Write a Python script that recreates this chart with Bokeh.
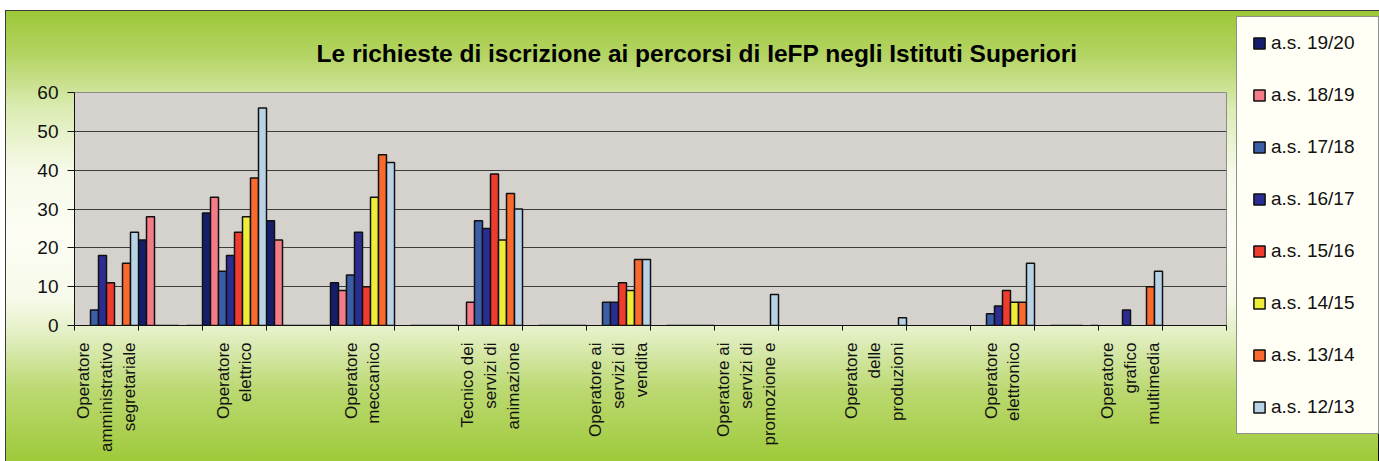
import math
import numpy as np
from bokeh.plotting import figure
from bokeh.layouts import row, column
from bokeh.models import Range1d, FixedTicker, Legend, LegendItem, ColumnDataSource
from bokeh.embed import file_html
from bokeh.resources import INLINE

# ---------------- data ----------------
categories = [
    "Operatore\namministrativo\nsegretariale", "",
    "Operatore\nelettrico", "",
    "Operatore\nmeccanico", "",
    "Tecnico dei\nservizi di\nanimazione", "",
    "Operatore ai\nservizi di\nvendita", "",
    "Operatore ai\nservizi di\npromozione e", "",
    "Operatore\ndelle\nproduzioni", "",
    "Operatore\nelettronico", "",
    "Operatore\ngrafico\nmultimedia", "",
]
series_names = ["a.s. 19/20", "a.s. 18/19", "a.s. 17/18", "a.s. 16/17",
                "a.s. 15/16", "a.s. 14/15", "a.s. 13/14", "a.s. 12/13"]
N = None
as_1920 = [N, 22, 29, 27, 11, N, N, N, N, N, N, N, N, N, N, N, N, N]
as_1819 = [N, 28, 33, 22, 9, N, 6, N, N, N, N, N, N, N, N, N, N, N]
as_1718 = [4, 0, 14, 0, 13, 0, 27, 0, 6, 0, N, N, N, N, 3, 0, N, N]
as_1617 = [18, 0, 18, 0, 24, 0, 25, 0, 6, 0, N, N, N, N, 5, 0, 4, N]
as_1516 = [11, 0, 24, 0, 10, 0, 39, 0, 11, 0, N, N, N, N, 9, 0, N, N]
as_1415 = [N, N, 28, 0, 33, 0, 22, 0, 9, 0, N, N, N, N, 6, 0, N, N]
as_1314 = [16, 0, 38, 0, 44, 0, 34, 0, 17, 0, N, N, N, N, 6, N, 10, N]
as_1213 = [24, 0, 56, 0, 42, 0, 30, 0, 17, 0, 8, N, 2, N, 16, 0, 14, N]
series_values = [as_1920, as_1819, as_1718, as_1617, as_1516, as_1415, as_1314, as_1213]
y_ticks = [0, 10, 20, 30, 40, 50, 60]

# ---------------- styles ----------------
colors = ["#141e6b", "#f47c88", "#3b5fa6", "#2b2d92",
          "#f03c2c", "#eded3a", "#fa6a2e", "#b9d3e6"]
FONT = "Liberation Sans"

W, H = 1231, 451
FL, FR, FT, FB = 69, 1221, 82, 315   # frame edges inside the main figure
p = figure(width=W, height=H, output_backend="svg", toolbar_location=None,
           x_range=Range1d(0, len(categories)), y_range=Range1d(0, 60),
           min_border_left=FL, min_border_right=W - FR,
           min_border_top=FT, min_border_bottom=H - FB)
p.border_fill_color = None
p.background_fill_color = "#d5d2cd"
p.outline_line_color = "#8c8c8c"
p.outline_line_width = 1

p.title.text = "Le richieste di iscrizione ai percorsi di IeFP negli Istituti Superiori"
p.title.text_font = FONT
p.title.text_font_style = "bold"
p.title.text_font_size = "24.5px"
p.title.text_color = "#000000"
p.title.align = "left"
p.title.offset = 242
p.title.standoff = 52

sources = []
n = len(series_names)
for j, (name, vals) in enumerate(zip(series_names, series_values)):
    top = np.array(vals, dtype=float)
    x = np.arange(len(categories)) + (j + 0.5) / n
    src = ColumnDataSource(dict(x=x, top=top))
    sources.append(src)
    p.vbar(x="x", top="top", bottom=0, width=1.0 / n, source=src,
           fill_color=colors[j], line_color="#111111", line_width=1.5)

# grid
p.xgrid.grid_line_color = None
p.ygrid.grid_line_color = "#3c3c3c"
p.ygrid.grid_line_width = 1

# y axis
p.yaxis.ticker = FixedTicker(ticks=y_ticks)
p.yaxis.axis_line_color = "#111111"
p.yaxis.major_tick_out = 7
p.yaxis.major_tick_in = 0
p.yaxis.minor_tick_line_color = None
p.yaxis.major_tick_line_color = "#111111"
p.yaxis.major_label_text_font = FONT
p.yaxis.major_label_text_font_size = "19px"
p.yaxis.major_label_text_color = "#111111"
p.yaxis.major_label_standoff = 9

# x axis
centers = [i + 0.5 for i, c in enumerate(categories) if c]
p.xaxis.ticker = FixedTicker(ticks=centers,
                             minor_ticks=list(range(len(categories) + 1)))
p.xaxis.major_label_overrides = {i + 0.5: c for i, c in enumerate(categories) if c}
p.xaxis.major_tick_out = 0
p.xaxis.major_tick_in = 0
p.xaxis.minor_tick_out = 5
p.xaxis.minor_tick_in = 0
p.xaxis.minor_tick_line_color = "#111111"
p.xaxis.axis_line_color = "#111111"
p.xaxis.major_label_orientation = math.pi / 2
p.xaxis.major_label_text_font = FONT
p.xaxis.major_label_text_font_size = "17px"
p.xaxis.major_label_text_color = "#111111"
p.xaxis.major_label_standoff = 12

# ---------------- legend panel (separate figure on the right) ----------------
LW = 1379 - 5 - W
pl = figure(width=LW, height=H, output_backend="svg", toolbar_location=None,
            x_axis_type=None, y_axis_type=None, min_border=0,
            x_range=Range1d(-100, -99), y_range=Range1d(0, 60))
pl.border_fill_color = None
pl.background_fill_color = None
pl.outline_line_color = None
pl.grid.visible = False

legend_renderers = []
for j, src in enumerate(sources):
    rr = pl.vbar(x="x", top="top", width=1.0 / n, source=src,
                 fill_color=colors[j], line_color="#111111", line_width=1.5)
    legend_renderers.append(rr)

legend = Legend(items=[LegendItem(label=nm, renderers=[rr])
                       for nm, rr in zip(series_names, legend_renderers)],
                location=(0, 27))
legend.background_fill_color = "#fffff5"
legend.background_fill_alpha = 1
legend.border_line_color = "#222222"
legend.border_line_width = 1
legend.glyph_width = 14
legend.glyph_height = 14
legend.label_text_font = FONT
legend.label_text_font_size = "19px"
legend.label_text_color = "#111111"
legend.label_standoff = 5
legend.label_height = 22
legend.label_width = 92
legend.spacing = 30
legend.padding = 15
legend.margin = 0
legend.click_policy = "none"
pl.add_layout(legend, "center")

layout = row(p, column(pl, spacing=0), spacing=0)
layout.styles = {
    "margin-left": "5px",
    "margin-top": "10px",
    "background": "linear-gradient(to bottom, #9cc737 0%, #b4d463 10%, #dcecb4 22%, #f7faea 36%, #fdfdf4 50%, #f7faea 64%, #e2efc2 72%, #bcd972 84%, #9fca3a 100%)",
    "box-shadow": "inset 1px 1px 0 0 #3a3a3a",
}

open("out.html", "w").write(file_html(layout, INLINE))
